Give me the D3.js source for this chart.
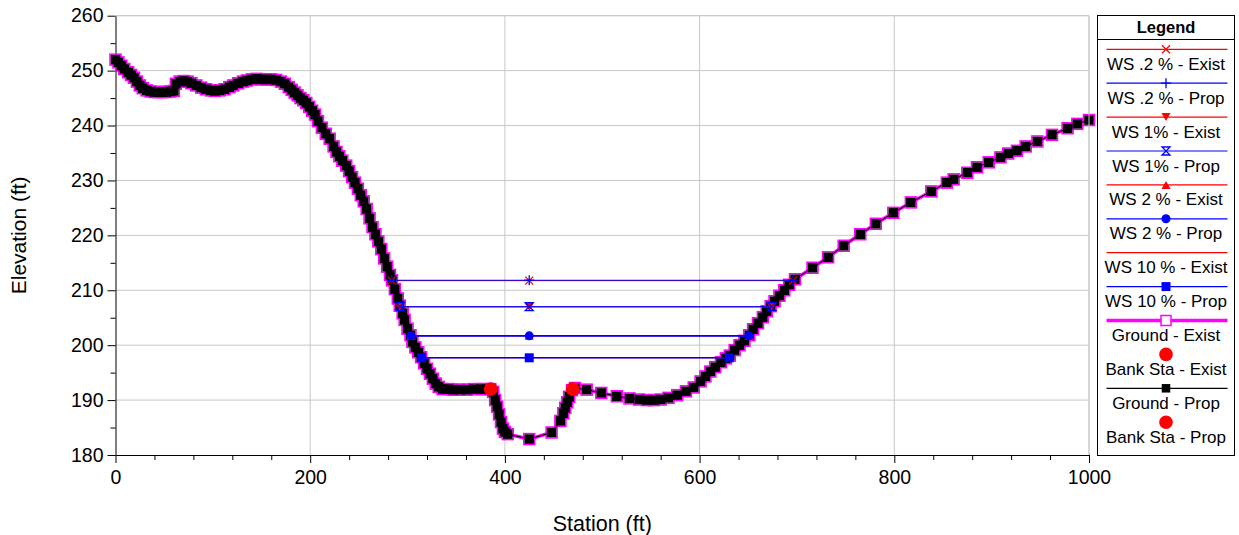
<!DOCTYPE html>
<html>
<head>
<meta charset="utf-8">
<script src="https://cdn.jsdelivr.net/npm/d3@7/dist/d3.min.js"></script>
<style>
  body { margin: 0; background: #fff; }
  svg { display: block; font-family: "Liberation Sans", Arial, sans-serif; }
</style>
</head>
<body>
<svg id="chart" width="1239" height="535"></svg>
<script>
// ground profile (Exist and Prop are the same survey)
var groundSta = [0, 3, 6, 9, 13, 16, 19, 22, 25, 28, 32, 36, 40, 44, 48, 52, 56, 60, 62, 66,
    70, 74, 78, 83, 88, 93, 98, 102, 107, 112, 117, 121, 126, 131, 135, 140, 145, 150, 155, 160,
    165, 170, 174, 178, 181, 184, 187, 190, 193, 196, 199, 202, 205, 208, 212, 216, 220, 224, 227, 230,
    233, 237, 240, 243, 246, 249, 252, 255, 258, 261, 264, 267, 270, 273, 276, 279, 282, 284, 287, 290,
    292, 295, 297, 300, 303, 305, 308, 311, 314, 317, 320, 323, 326, 329, 332, 336, 342, 347, 354, 361,
    368, 376, 381, 385, 388, 390, 392, 394, 396, 398, 400, 403, 425, 448, 457, 460, 462, 464, 466, 469,
    472, 484, 499, 515, 528, 538, 546, 553, 560, 568, 577, 586, 594, 601, 606, 611, 616, 622, 627, 631,
    636, 641, 646, 651, 655, 660, 665, 669, 673, 677, 682, 687, 692, 698, 716, 732, 748, 765, 781, 799,
    817, 838, 854, 861, 875, 885, 897, 909, 917, 926, 935, 947, 962, 978, 988, 1000];
var groundElev = [252.0, 251.5, 250.9, 250.3, 249.7, 249.2, 248.7, 248.0, 247.3, 246.8, 246.4, 246.2, 246.1, 246.1, 246.1, 246.1, 246.2, 246.3, 247.6, 248.0,
    248.1, 248.0, 247.7, 247.3, 246.9, 246.6, 246.4, 246.3, 246.4, 246.6, 247.0, 247.3, 247.7, 248.0, 248.2, 248.4, 248.5, 248.4, 248.4, 248.4,
    248.3, 248.0, 247.6, 247.0, 246.5, 246.0, 245.5, 245.0, 244.6, 244.1, 243.4, 242.7, 242.0, 240.8, 239.6, 238.5, 237.6, 236.2, 235.2, 234.4,
    233.6, 232.7, 231.7, 230.6, 229.6, 228.5, 227.3, 226.2, 224.8, 223.1, 221.5, 220.2, 218.9, 217.5, 215.8, 214.3, 212.8, 211.8, 210.2, 208.5,
    207.2, 205.8, 204.6, 203.0, 201.8, 200.6, 199.6, 198.7, 197.8, 196.7, 195.7, 194.8, 193.9, 193.0, 192.4, 192.0, 192.0, 191.9, 191.9, 191.9,
    192.0, 192.0, 192.0, 192.0, 191.5, 190.0, 188.8, 187.4, 186.0, 184.8, 184.2, 183.8, 182.9, 184.1, 186.2, 187.6, 188.6, 189.6, 190.6, 191.8,
    192.2, 191.9, 191.3, 190.7, 190.3, 190.1, 190.0, 190.0, 190.1, 190.4, 190.9, 191.6, 192.3, 193.4, 194.3, 195.2, 196.0, 196.9, 197.6, 198.1,
    199.1, 200.0, 200.8, 201.8, 202.9, 204.0, 205.1, 206.2, 207.1, 208.0, 209.0, 210.0, 211.0, 212.0, 214.1, 216.0, 218.1, 220.2, 222.1, 224.1,
    226.0, 228.0, 229.6, 230.2, 231.4, 232.4, 233.3, 234.2, 234.9, 235.4, 236.2, 237.1, 238.3, 239.5, 240.3, 241.0];

var bankSta = [385.4, 469.6];
var bankElev = [192.0, 192.0];

// water surfaces: .2 %, 1%, 2 %, 10 %
var wsNames = ["WS .2 %", "WS 1%", "WS 2 %", "WS 10 %"];
var wsElevExist = [211.75, 206.95, 201.7, 197.7];
var wsElevProp = [211.82, 207.02, 201.7, 197.7];
var wsLeftSta = [283.7, 292.2, 303.5, 314.5];
var wsRightSta = [696, 674, 650.7, 630.5];
var wsMidSta = 425;

var xTicks = [0, 200, 400, 600, 800, 1000];
var xMinorTicks = [40, 80, 120, 160, 240, 280, 320, 360, 440, 480, 520, 560, 640, 680, 720, 760, 840, 880, 920, 960];
var yTicks = [180, 190, 200, 210, 220, 230, 240, 250, 260];
var yMinorTicks = [185, 195, 205, 215, 225, 235, 245, 255];

var legendLabels = ["WS .2 % - Exist", "WS .2 % - Prop", "WS 1% - Exist", "WS 1% - Prop",
    "WS 2 % - Exist", "WS 2 % - Prop", "WS 10 % - Exist", "WS 10 % - Prop",
    "Ground - Exist", "Bank Sta - Exist", "Ground - Prop", "Bank Sta - Prop"];

var RED = "#ff0000", BLUE = "#0000ff", MAG = "#ff00ff";

// marker shapes, centred on 0,0
var markers = {
    x: { d: "M-4,-4L4,4M-4,4L4,-4", fill: "none", stroke: RED },
    plus: { d: "M-5,0H5M0,-5V5", fill: "none", stroke: BLUE },
    tridown: { d: "M-4.5,-4L4.5,-4L0,4Z", fill: RED, stroke: "none" },
    hourglass: { d: "M-4,-4H4L-4,4H4Z", fill: "none", stroke: BLUE },
    triup: { d: "M-4.5,4L4.5,4L0,-4Z", fill: RED, stroke: "none" },
    dot: { d: "M4.5,0A4.5,4.5 0 1,1 -4.5,0A4.5,4.5 0 1,1 4.5,0Z", fill: BLUE, stroke: "none" },
    square: { d: "M-4.5,-4.5H4.5V4.5H-4.5Z", fill: BLUE, stroke: "none" },
    none: null
};
var wsExistMarker = ["x", "tridown", "triup", "none"];
var wsPropMarker = ["plus", "hourglass", "dot", "square"];

function drawMarker(g, name, cx, cy) {
    var m = markers[name];
    if (!m) return;
    g.append("path")
        .attr("d", m.d)
        .attr("transform", "translate(" + cx + "," + cy + ")")
        .attr("fill", m.fill)
        .attr("stroke", m.stroke)
        .attr("stroke-width", 1.3);
}

function DrawChart() {
    var svg = d3.select("#chart");

    var x = d3.scaleLinear().domain([0, 1000]).range([115.5, 1089]);
    var y = d3.scaleLinear().domain([180, 260]).range([455, 15.7]);

    var ground = groundSta.map(function(s, i) { return [s, groundElev[i]]; });

    // grid
    var grid = svg.append("g").attr("stroke", "#c8c8c8").attr("stroke-width", 1);
    grid.selectAll(".gx").data(xTicks.slice(1))
        .enter().append("line")
        .attr("x1", function(d) { return x(d); }).attr("x2", function(d) { return x(d); })
        .attr("y1", y(180)).attr("y2", y(260));
    grid.selectAll(".gy").data(yTicks.slice(1))
        .enter().append("line")
        .attr("x1", x(0)).attr("x2", x(1000))
        .attr("y1", function(d) { return y(d); }).attr("y2", function(d) { return y(d); });

    // axes
    svg.append("g")
        .attr("transform", "translate(" + x(0) + ",0)")
        .call(d3.axisLeft(y).tickValues(yTicks).tickSize(8).tickPadding(4).tickSizeOuter(0));
    svg.append("g")
        .attr("transform", "translate(" + x(0) + ",0)")
        .call(d3.axisLeft(y).tickValues(yMinorTicks).tickSize(5).tickFormat(""))
        .select(".domain").remove();
    svg.append("g")
        .attr("transform", "translate(0," + y(180) + ")")
        .call(d3.axisBottom(x).tickValues(xTicks).tickSize(8).tickPadding(7).tickSizeOuter(0).tickFormat(d3.format("d")));
    svg.append("g")
        .attr("transform", "translate(0," + y(180) + ")")
        .call(d3.axisBottom(x).tickValues(xMinorTicks).tickSize(5).tickFormat(""))
        .select(".domain").remove();
    svg.selectAll(".tick text")
        .attr("font-family", "'Liberation Sans', Arial, sans-serif")
        .attr("font-size", 19.5)
        .attr("fill", "#000");
    svg.selectAll(".tick line, .domain").attr("stroke", "#000");

    svg.append("text")
        .attr("x", (x(0) + x(1000)) / 2).attr("y", 531)
        .attr("text-anchor", "middle").attr("font-size", 21.5)
        .text("Station (ft)");
    svg.append("text")
        .attr("transform", "translate(26," + (y(220)) + ") rotate(-90)")
        .attr("text-anchor", "middle").attr("font-size", 21)
        .text("Elevation (ft)");

    var line = d3.line()
        .x(function(d) { return x(d[0]); })
        .y(function(d) { return y(d[1]); });

    // ground exist: thick magenta + hollow squares
    svg.append("path").datum(ground)
        .attr("d", line).attr("fill", "none")
        .attr("stroke", MAG).attr("stroke-width", 3.5);
    svg.append("g").selectAll("rect").data(ground)
        .enter().append("rect")
        .attr("x", function(d) { return x(d[0]) - 5.5; })
        .attr("y", function(d) { return y(d[1]) - 5.5; })
        .attr("width", 11).attr("height", 11)
        .attr("fill", "none").attr("stroke", MAG).attr("stroke-width", 1.5);

    // ground prop: thin black + filled squares
    svg.append("path").datum(ground)
        .attr("d", line).attr("fill", "none")
        .attr("stroke", "#000").attr("stroke-width", 1);
    svg.append("g").selectAll("rect").data(ground)
        .enter().append("rect")
        .attr("x", function(d) { return x(d[0]) - 4.75; })
        .attr("y", function(d) { return y(d[1]) - 4.75; })
        .attr("width", 9.5).attr("height", 9.5)
        .attr("fill", "#000");

    // bank stations
    svg.append("g").selectAll("circle").data(bankSta)
        .enter().append("circle")
        .attr("cx", function(d) { return x(d); })
        .attr("cy", function(d, i) { return y(bankElev[i]); })
        .attr("r", 6.8).attr("fill", RED);

    // water surfaces, exist below prop
    var ws = svg.append("g");
    wsNames.forEach(function(n, i) {
        var yy = y(wsElevExist[i]);
        ws.append("line")
            .attr("x1", x(wsLeftSta[i])).attr("x2", x(wsRightSta[i]))
            .attr("y1", yy).attr("y2", yy)
            .attr("stroke", RED).attr("stroke-width", 1);
        [wsLeftSta[i], wsMidSta, wsRightSta[i]].forEach(function(s) {
            drawMarker(ws, wsExistMarker[i], x(s), yy);
        });
    });
    wsNames.forEach(function(n, i) {
        var yy = y(wsElevProp[i]);
        // wider where it sits right on top of the exist line
        var sw = wsElevExist[i] == wsElevProp[i] ? 1.6 : 1;
        ws.append("line")
            .attr("x1", x(wsLeftSta[i])).attr("x2", x(wsRightSta[i]))
            .attr("y1", yy).attr("y2", yy)
            .attr("stroke", BLUE).attr("stroke-width", sw);
        [wsLeftSta[i], wsMidSta, wsRightSta[i]].forEach(function(s) {
            drawMarker(ws, wsPropMarker[i], x(s), yy);
        });
    });

    // plot frame (top / right in grey)
    svg.append("path")
        .attr("d", "M" + x(0) + "," + y(260) + "H" + x(1000) + "V" + y(180))
        .attr("fill", "none").attr("stroke", "#c8c8c8");

    // legend
    var lg = svg.append("g");
    var L = 1097.5, R = 1234.5, T = 15.5, B = 455.5, cx = (L + R) / 2;
    lg.append("rect").attr("x", L).attr("y", T).attr("width", R - L).attr("height", B - T)
        .attr("fill", "#fff").attr("stroke", "#000").attr("stroke-width", 1);
    lg.append("line").attr("x1", L).attr("x2", R).attr("y1", 39.5).attr("y2", 39.5).attr("stroke", "#000");
    lg.append("text").attr("x", cx).attr("y", 33).attr("text-anchor", "middle")
        .attr("font-size", 16.5).attr("font-weight", "bold").text("Legend");

    var legendStyle = [
        { c: RED, m: "x" }, { c: BLUE, m: "plus" }, { c: RED, m: "tridown" }, { c: BLUE, m: "hourglass" },
        { c: RED, m: "triup" }, { c: BLUE, m: "dot" }, { c: RED, m: "none" }, { c: BLUE, m: "square" },
        { c: MAG, m: "hollow", w: 3.5 }, { c: null, m: "bank" }, { c: "#000", m: "black" }, { c: null, m: "bank" }
    ];
    legendLabels.forEach(function(label, i) {
        var ly = 49.3 + i * 33.9;
        var st = legendStyle[i];
        if (st.c) {
            lg.append("line").attr("x1", 1106.5).attr("x2", 1227.5)
                .attr("y1", ly).attr("y2", ly)
                .attr("stroke", st.c).attr("stroke-width", st.w || 1.2);
        }
        if (st.m == "hollow") {
            lg.append("rect").attr("x", cx - 5).attr("y", ly - 5).attr("width", 10).attr("height", 10)
                .attr("fill", "#fff").attr("stroke", MAG).attr("stroke-width", 1.5);
        } else if (st.m == "bank") {
            lg.append("circle").attr("cx", cx).attr("cy", ly).attr("r", 6.8).attr("fill", RED);
        } else if (st.m == "black") {
            lg.append("rect").attr("x", cx - 4.25).attr("y", ly - 4.25).attr("width", 8.5).attr("height", 8.5).attr("fill", "#000");
        } else {
            drawMarker(lg, st.m, cx, ly);
        }
        lg.append("text").attr("x", cx).attr("y", ly + 20.5).attr("text-anchor", "middle")
            .attr("font-size", 17).text(label);
    });
}

DrawChart();
</script>
</body>
</html>
